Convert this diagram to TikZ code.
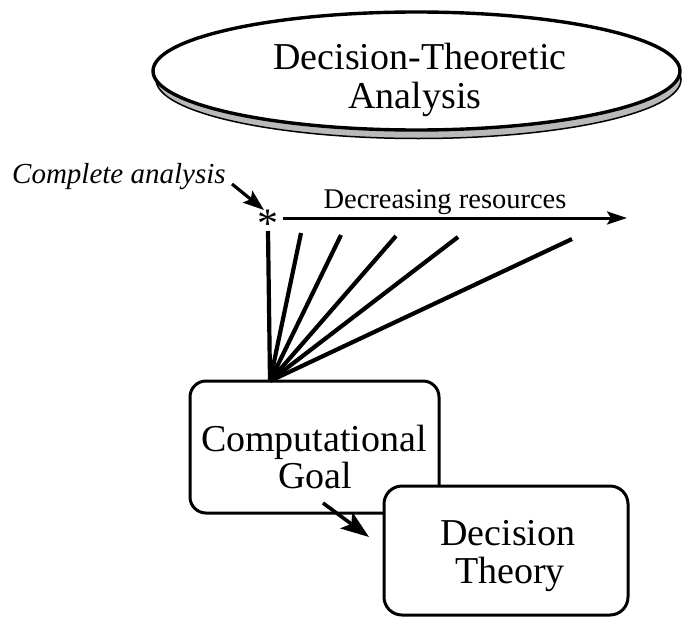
\documentclass[tikz,border=0pt]{standalone}
\usepackage{fontspec}
\setmainfont{Liberation Serif}
\usetikzlibrary{arrows.meta}
\begin{document}
\begin{tikzpicture}[x=1pt,y=-1pt,
  bigtxt/.style={font=\fontsize{38}{38}\selectfont, inner sep=0pt, anchor=base},
  smalltxt/.style={font=\fontsize{28.5}{30}\selectfont, inner sep=0pt, anchor=base},
  roundbox/.style={draw=black, line width=3pt, fill=white, inner sep=0pt},
  fanline/.style={line width=4.2pt},
  arr/.style={line width=3pt, -{Stealth[length=20pt,width=13pt,inset=4pt]}},
]
\useasboundingbox (0,0) rectangle (684,618);
% ellipse with shadow
\fill[gray!55, draw=black, line width=1.5pt] (418.5,79.5) ellipse [x radius=262.5pt, y radius=59pt];
\draw[fill=white, line width=3.4pt] (416.5,71) ellipse [x radius=263.5pt, y radius=59pt];
\node[bigtxt] (dt1) at (420,70) {Decision-Theoretic};
\node[bigtxt] (dt2) at (415,108) {Analysis};
% complete analysis
\node[smalltxt, anchor=base west, font=\fontsize{29}{30}\selectfont\itshape] (ca) at (12,183) {Complete analysis};
\node[bigtxt, font=\fontsize{42}{42}\selectfont] (star) at (268,237) {*};
\coordinate (castart) at (232,184);
\coordinate (catip) at (264,210);
\draw[line width=3.2pt, -{Stealth[length=21pt,width=15pt,inset=4pt]}] (castart) -- (catip);
% decreasing resources
\coordinate (hstart) at (283,218);
\coordinate (hend) at (627,218);
\draw[arr] (hstart) -- (hend);
\node[smalltxt] (dr) at (445,208) {Decreasing resources};
% boxes
\node[roundbox, rounded corners=16pt, minimum width=249pt, minimum height=132pt] (comp) at (314.5,447) {};
\coordinate (apex) at (270,381);
\coordinate (f0) at (268,231);
\coordinate (f1) at (301,233);
\coordinate (f2) at (341,235);
\coordinate (f3) at (396,236);
\coordinate (f4) at (458,237);
\coordinate (f5) at (572,239);
\foreach \f in {f0,f1,f2,f3,f4,f5} \draw[fanline] (\f) -- (apex);
\node[bigtxt] (c1) at (314,451) {Computational};
\node[bigtxt] (c2) at (315,488) {Goal};
\node[roundbox, rounded corners=18pt, minimum width=244pt, minimum height=129pt] (dec) at (506,550.5) {};
\node[bigtxt] (d1) at (508,545) {Decision};
\node[bigtxt] (d2) at (510,583) {Theory};
\coordinate (gstart) at (323,503);
\coordinate (gtip) at (369,537);
\draw[line width=3.6pt, -{Stealth[length=28pt,width=20pt,inset=6pt]}] (gstart) -- (gtip);
\end{tikzpicture}
\end{document}
